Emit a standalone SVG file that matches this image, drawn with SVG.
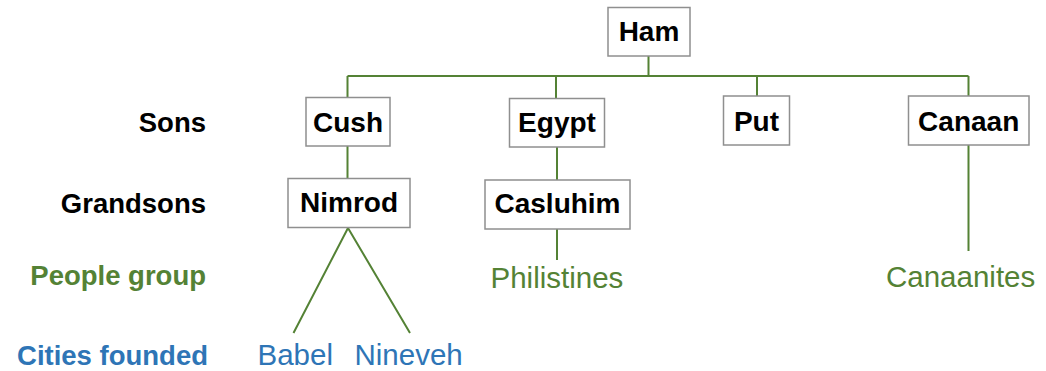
<svg xmlns="http://www.w3.org/2000/svg" width="1046" height="371" viewBox="0 0 1046 371">
<style>
.box{fill:#fff;stroke:#8f8f8f;stroke-width:1.5}
.bt{font-family:"Liberation Sans",Arial,sans-serif;font-weight:bold;font-size:28px;fill:#000;text-anchor:middle}
.lbl{font-family:"Liberation Sans",Arial,sans-serif;font-weight:bold;font-size:27.5px;text-anchor:end}
.grn{fill:#548235}
.blu{fill:#2e75b6}
.blk{fill:#000}
.rt{font-family:"Liberation Sans",Arial,sans-serif;font-size:29.5px}
.con{stroke:#548235;stroke-width:2;fill:none}
</style>
<rect width="1046" height="371" fill="#fff"/>
<g id="connectors">
<path class="con" d="M648.5 56V76M347.5 76H968.5M347.5 76V98M556 76V99M757 76V96M968.5 76V96"/>
<path class="con" d="M347.5 146V178M557 147V180M557 229V260M968.5 145V251"/>
<path class="con" d="M348 228L293.5 333M348 228L410 333"/>
</g>
<g id="labels">
<text class="lbl blk" x="206" y="131.5">Sons</text>
<text class="lbl blk" x="206" y="213">Grandsons</text>
<text class="lbl grn" x="206" y="285">People group</text>
<text class="lbl blu" x="208" y="364.5">Cities founded</text>
</g>
<g id="ham"><rect class="box" x="608" y="7.5" width="82" height="48.5"/><text class="bt" x="649" y="41">Ham</text></g>
<g id="cush"><rect class="box" x="306" y="97.5" width="84" height="48.5"/><text class="bt" x="348" y="131.5">Cush</text></g>
<g id="egypt"><rect class="box" x="509.5" y="98.5" width="95" height="48.5"/><text class="bt" x="557" y="131.5">Egypt</text></g>
<g id="put"><rect class="box" x="723.5" y="96" width="66" height="49"/><text class="bt" x="756.5" y="130.5">Put</text></g>
<g id="canaan"><rect class="box" x="908.5" y="96" width="120.5" height="49"/><text class="bt" x="968.7" y="130.5">Canaan</text></g>
<g id="nimrod"><rect class="box" x="288" y="178.5" width="122" height="49"/><text class="bt" x="349" y="211.5">Nimrod</text></g>
<g id="casluhim"><rect class="box" x="485" y="180" width="145" height="49"/><text class="bt" x="557.5" y="213">Casluhim</text></g>
<g id="philistines"><text class="rt grn" x="490.5" y="287.5">Philistines</text></g>
<g id="canaanites"><text class="rt grn" x="886" y="286.5">Canaanites</text></g>
<g id="babel"><text class="rt blu" x="257.5" y="364.5">Babel</text></g>
<g id="nineveh"><text class="rt blu" x="354.5" y="364.5">Nineveh</text></g>
</svg>
